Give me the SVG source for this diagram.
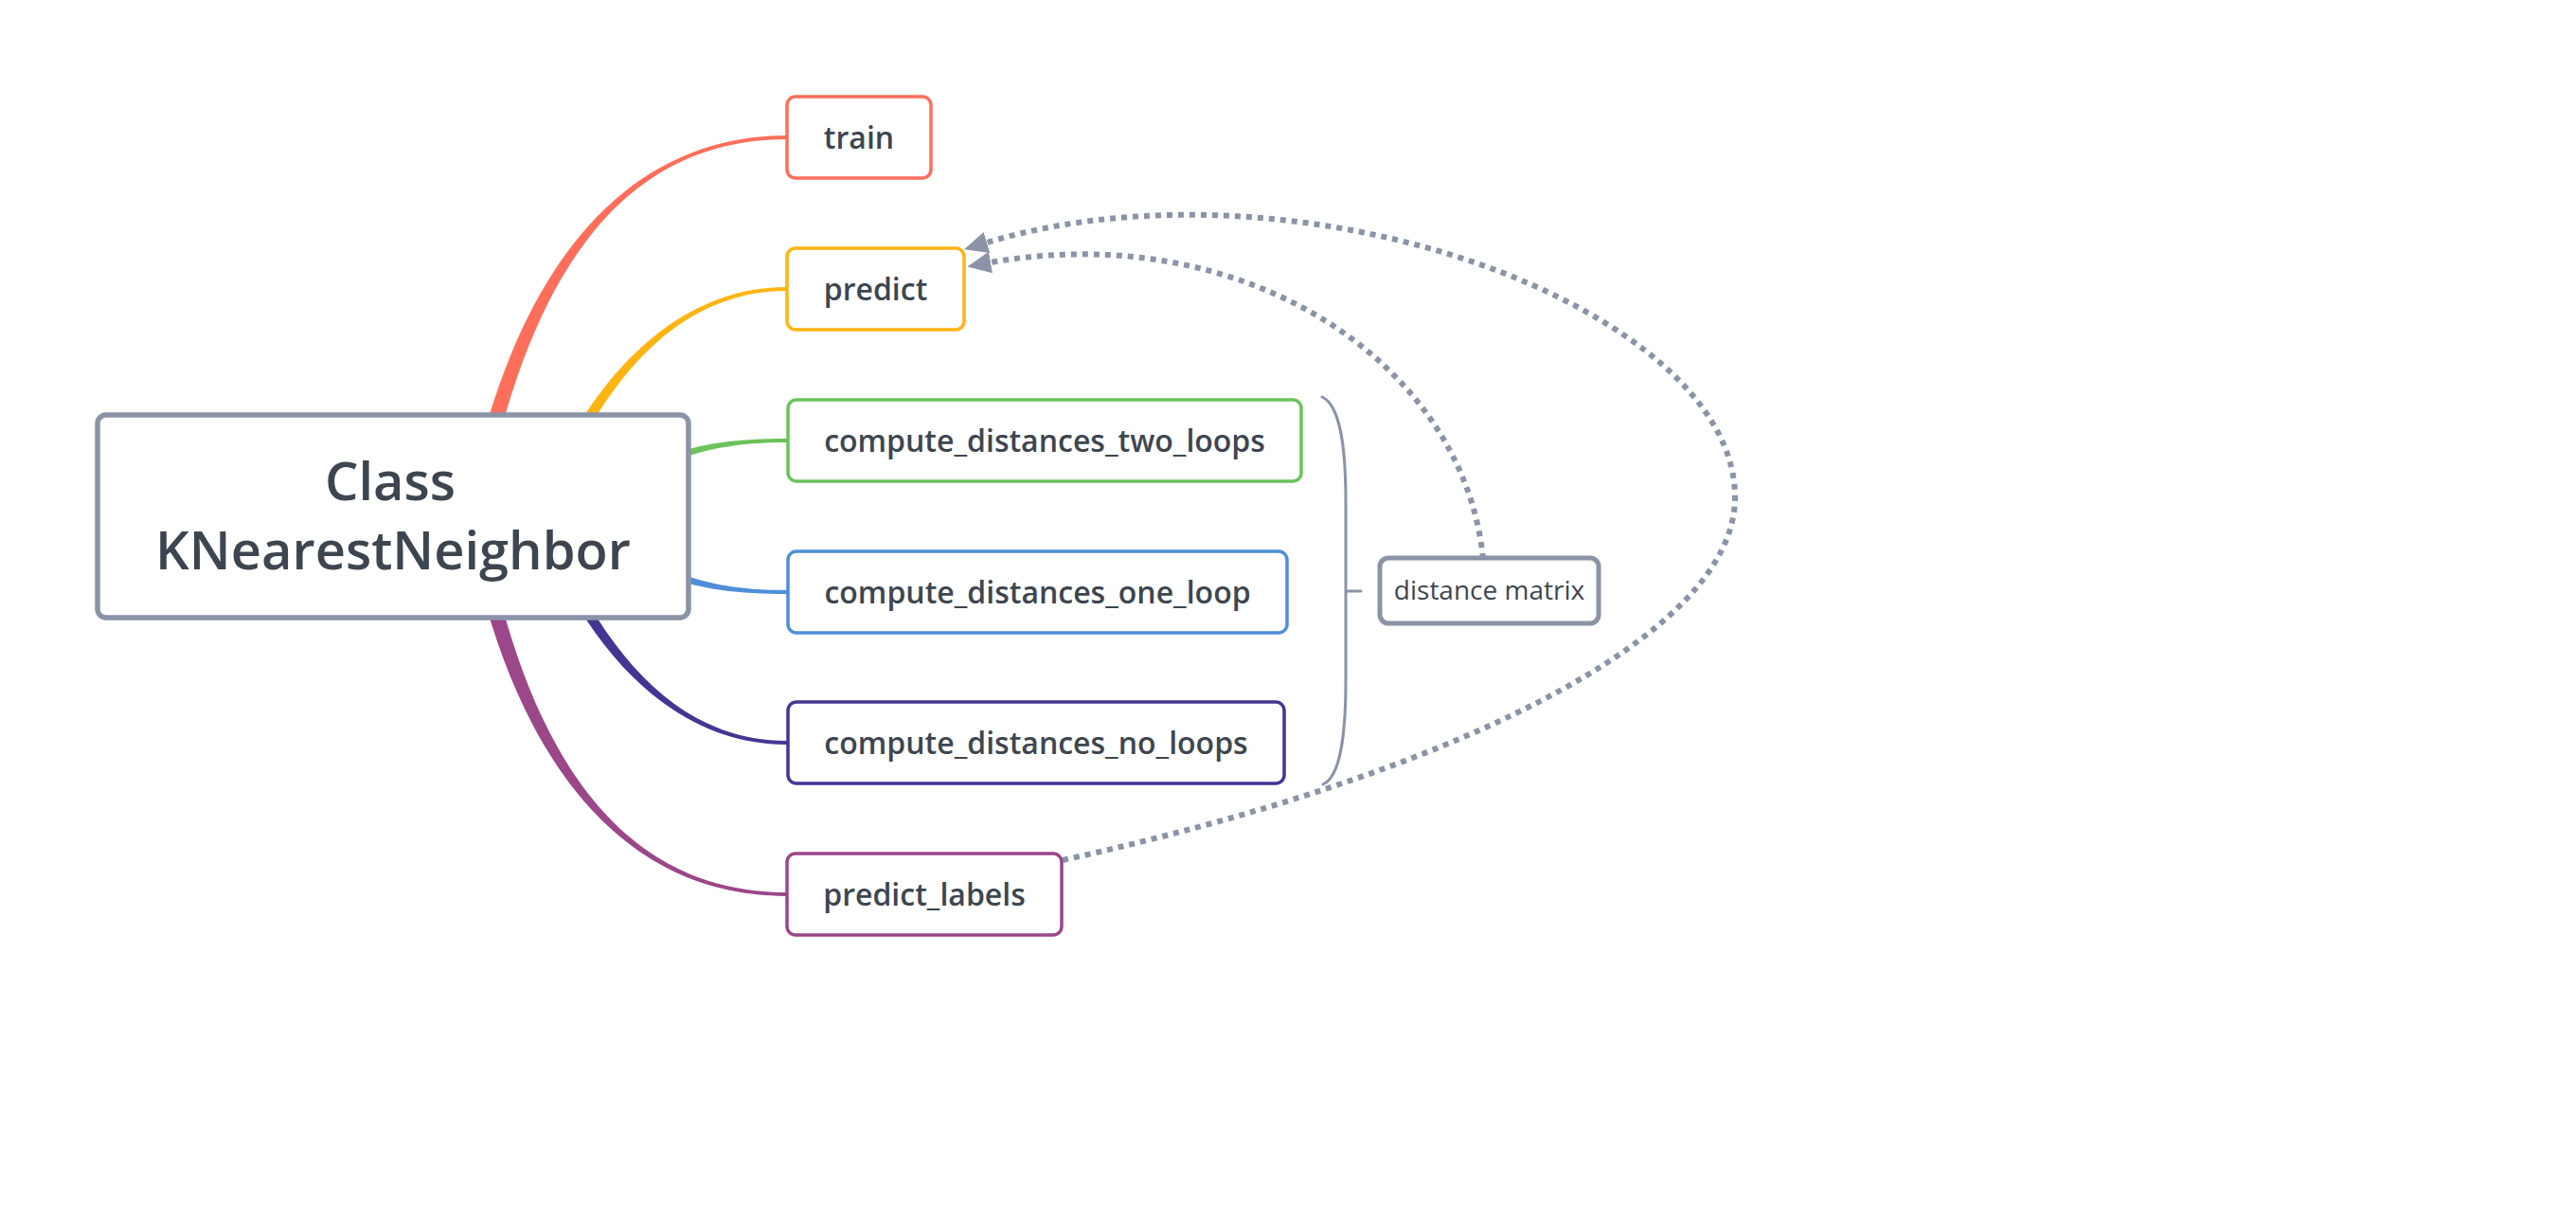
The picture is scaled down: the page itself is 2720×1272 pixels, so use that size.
<svg xmlns="http://www.w3.org/2000/svg" width="2720" height="1272" viewBox="0 0 2720 1272">
<style>
  text { font-family: "Open Sans", "Noto Sans", "Liberation Sans", sans-serif; fill: #3d4650; }
  .node { fill: #ffffff; stroke-width: 3.5; }
  .lbl { font-size: 32px; font-weight: 600; text-anchor: middle; }
  .root { fill: #ffffff; stroke: #8a94a6; stroke-width: 5.5; }
  .rootlbl { font-size: 56px; font-weight: 600; text-anchor: middle; }
  .rel { fill: none; stroke: #8a94a6; stroke-width: 6; stroke-dasharray: 6 6; }
  .sum { fill: none; stroke: #8a94a6; stroke-width: 3; stroke-linecap: round; }
</style>
<defs>
  <marker id="arrow" viewBox="0 0 25 23" markerWidth="25" markerHeight="23" refX="0" refY="11.5" orient="auto" markerUnits="userSpaceOnUse">
    <path d="M0,0 L25,11.5 L0,23 Z" fill="#8a94a6"/>
  </marker>
</defs>
<rect width="2720" height="1272" fill="#ffffff"/>

<g id="connectors">
  <path id="c-train" fill="#ff6e5a" d="M508.4,546.5 C553.4,301.5 650,147 831,147 L831,143 C650,143 536.6,298.5 491.6,543.5 Z"/>
  <path id="c-predict" fill="#ffb412" d="M590.5,512.5 C645.5,392.5 720,307 831,307 L831,303 C720,303 634.5,387.5 579.5,507.5 Z"/>
  <path id="c-two" fill="#6ac259" d="M662,509 C722,479 760,467 832,467 L832,463 C760,463 718,471 658,501 Z"/>
  <path id="c-one" fill="#4f8ed9" d="M662,581 C722,611 760,623 832,623 L832,627 C760,627 718,619 658,589 Z"/>
  <path id="c-no" fill="#433693" d="M590.5,577.5 C645.5,697.5 720,782 831,782 L831,786 C720,786 634.5,702.5 579.5,582.5 Z"/>
  <path id="c-labels" fill="#9b4789" d="M508.4,543.5 C553.4,788.5 650,942 831,942 L831,946 C650,946 536.6,791.5 491.6,546.5 Z"/>
  <path id="summary" class="sum" d="M1396,419 C1415,428 1421,470 1421,530 L1421,718 C1421,778 1415,820 1397,828 M1421,624 H1437"/>
  <path id="rel-dm-predict" class="rel" marker-end="url(#arrow)" d="M1566,590 C1545,380 1310,230 1046,277"/>
  <path id="rel-labels-predict" class="rel" marker-end="url(#arrow)" d="M1122,908 C1522,820 1832,675 1832,525 C1832,325 1372,157 1042,256"/>
</g>

<g id="root">
  <rect class="root" x="103" y="438" width="624" height="214" rx="9"/>
  <text class="rootlbl" x="412" y="528">Class</text>
  <text class="rootlbl" x="415" y="601">KNearestNeighbor</text>
</g>

<g id="train">
  <rect class="node" stroke="#ff6e5a" x="831" y="102" width="152" height="86" rx="9"/>
  <text class="lbl" x="907" y="156.5">train</text>
</g>
<g id="predict">
  <rect class="node" stroke="#ffb412" x="831" y="262" width="187" height="86" rx="9"/>
  <text class="lbl" x="924.5" y="316.5">predict</text>
</g>
<g id="compute_distances_two_loops">
  <rect class="node" stroke="#6ac259" x="832" y="422" width="542" height="86" rx="9"/>
  <text class="lbl" x="1103" y="476.5">compute_distances_two_loops</text>
</g>
<g id="compute_distances_one_loop">
  <rect class="node" stroke="#4f8ed9" x="832" y="582" width="527" height="86" rx="9"/>
  <text class="lbl" x="1095.5" y="636.5">compute_distances_one_loop</text>
</g>
<g id="compute_distances_no_loops">
  <rect class="node" stroke="#433693" x="832" y="741" width="524" height="86" rx="9"/>
  <text class="lbl" x="1094" y="795.5">compute_distances_no_loops</text>
</g>
<g id="predict_labels">
  <rect class="node" stroke="#9b4789" x="831" y="901" width="290" height="86" rx="9"/>
  <text class="lbl" x="976" y="955.5">predict_labels</text>
</g>
<g id="distance_matrix">
  <rect fill="#ffffff" stroke="#8a94a6" stroke-width="5" x="1457" y="589" width="231" height="69" rx="9"/>
  <text x="1572.5" y="633" font-size="28" text-anchor="middle">distance matrix</text>
</g>
</svg>
